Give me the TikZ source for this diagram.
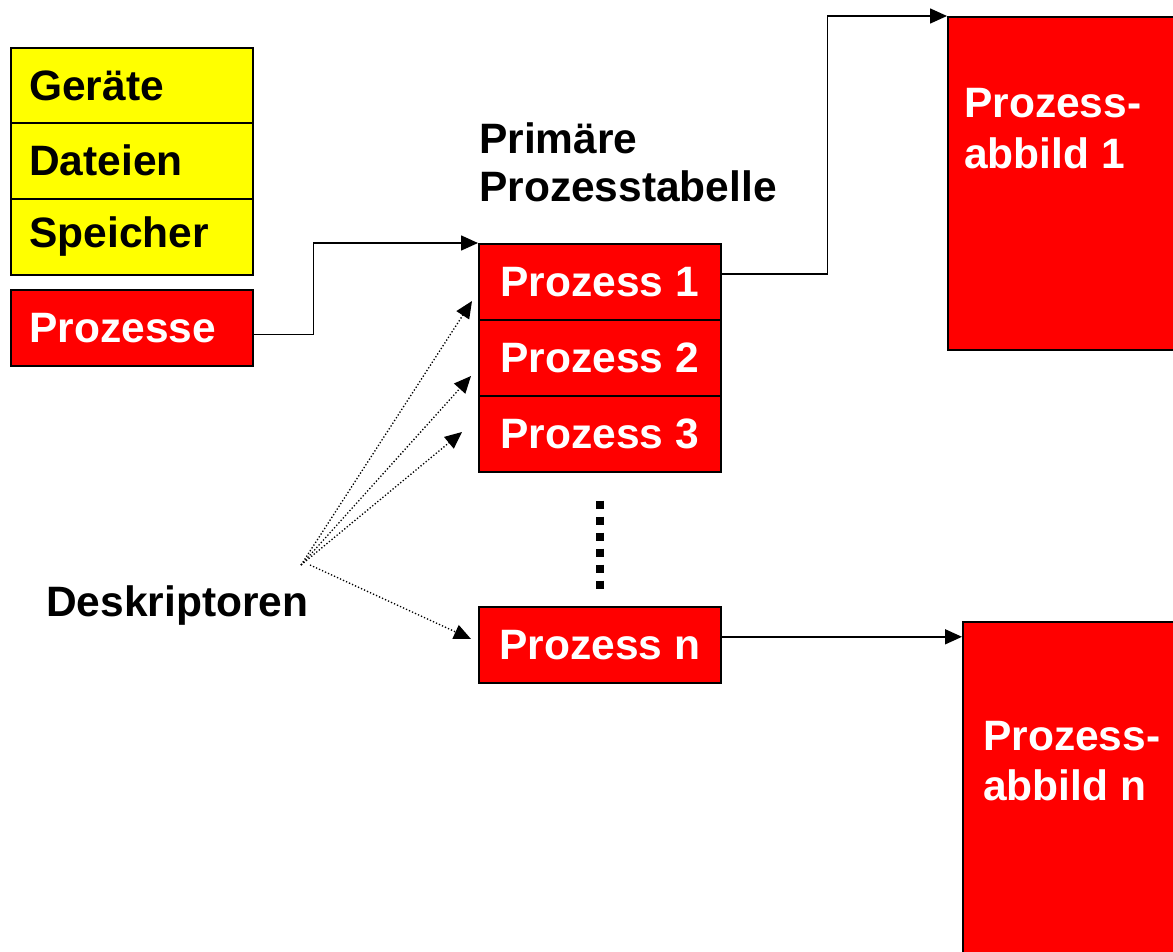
\documentclass[tikz,border=0pt]{standalone}
\usepackage{fontspec}
\setmainfont{Liberation Sans}
\usetikzlibrary{arrows.meta,calc}
\definecolor{pred}{HTML}{FF0000}
\definecolor{pyel}{HTML}{FFFF00}
\begin{document}
\begin{tikzpicture}[x=1pt,y=-1pt,
  txt/.style={font=\bfseries\fontsize{42.5}{48}\selectfont},
  ybox/.style={txt,draw=black,line width=1.6pt,fill=pyel,text=black,minimum height=76pt,
     text width=205pt,inner xsep=18.5pt,inner ysep=0pt,align=left,anchor=north west},
  rbox/.style={ybox,fill=pred,text=white},
  tbox/.style={txt,draw=black,line width=1.6pt,fill=pred,text=white,minimum height=76pt,
     minimum width=242pt,inner sep=0pt,anchor=north west},
  bigbox/.style={draw=black,line width=1.6pt,fill=pred,inner sep=0pt,anchor=north west},
  btxt/.style={txt,text=white,inner sep=0pt,align=left,anchor=north west},
  ktxt/.style={txt,text=black,inner sep=0pt,align=left},
  conn/.style={line width=1.6pt,-{Triangle[length=17pt,width=15pt]}},
  dconn/.style={line width=1.3pt,dash pattern=on 1.3pt off 2pt,-{Triangle[length=17pt,width=15pt]}}]
\useasboundingbox (0,0) rectangle (1173,951);
\clip (0,0) rectangle (1173,951);
% left column
\node[ybox] (geraete) at (10,47) {Geräte};
\node[ybox] (dateien) at (10,122) {Dateien};
\node[ybox] (speicher) at (10,198) {Speicher};
\node[rbox] (prozesse) at (10,289) {Prozesse};
% table
\node[ktxt,anchor=north west] (titel) at (479,122) {Primäre\\Prozesstabelle};
\node[tbox] (p1) at (478,243) {Prozess 1};
\node[tbox] (p2) at (478,319) {Prozess 2};
\node[tbox] (p3) at (478,395) {Prozess 3};
\node[tbox] (pn) at (478,606) {Prozess n};
\draw[line width=8pt,dash pattern=on 8pt off 8pt] (599.5,500.5) -- (599.5,590);
% images
\node[bigbox,minimum width=260pt,minimum height=333pt] (pa1) at (947,16) {};
\node[btxt] (pa1t) at (964,88) {Prozess-\\[3pt]abbild 1};
\node[bigbox,minimum width=250pt,minimum height=360pt] (pan) at (962,621) {};
\node[btxt] (pant) at (983,721) {Prozess-\\[2pt]abbild n};
% descriptor label
\node[ktxt,anchor=base west] (desk) at (46,616) {Deskriptoren};
% connectors
\coordinate (prout) at ([yshift=-6.5pt]prozesse.east);
\draw[conn] (prout) -- ++(60,0) |- (p1.north west);
\coordinate (p1out) at ([yshift=8pt]p1.east);
\draw[conn] (p1out) -- ++(106,0) |- (pa1.north west);
\coordinate (pnout) at ([yshift=8pt]pn.east);
\draw[conn] (pnout) -- (pnout -| pan.west);
% descriptor arrows
\coordinate (d1) at (301,565);
\coordinate (d2) at (310,565);
\coordinate (t1) at (472,301);
\coordinate (t2) at (471,376);
\coordinate (t3) at (462,432);
\coordinate (tn) at (471,639);
\draw[dconn] (d1) -- (t1);
\draw[dconn] (d1) -- (t2);
\draw[dconn] (d1) -- (t3);
\draw[dconn] (d2) -- (tn);
\end{tikzpicture}
\end{document}
